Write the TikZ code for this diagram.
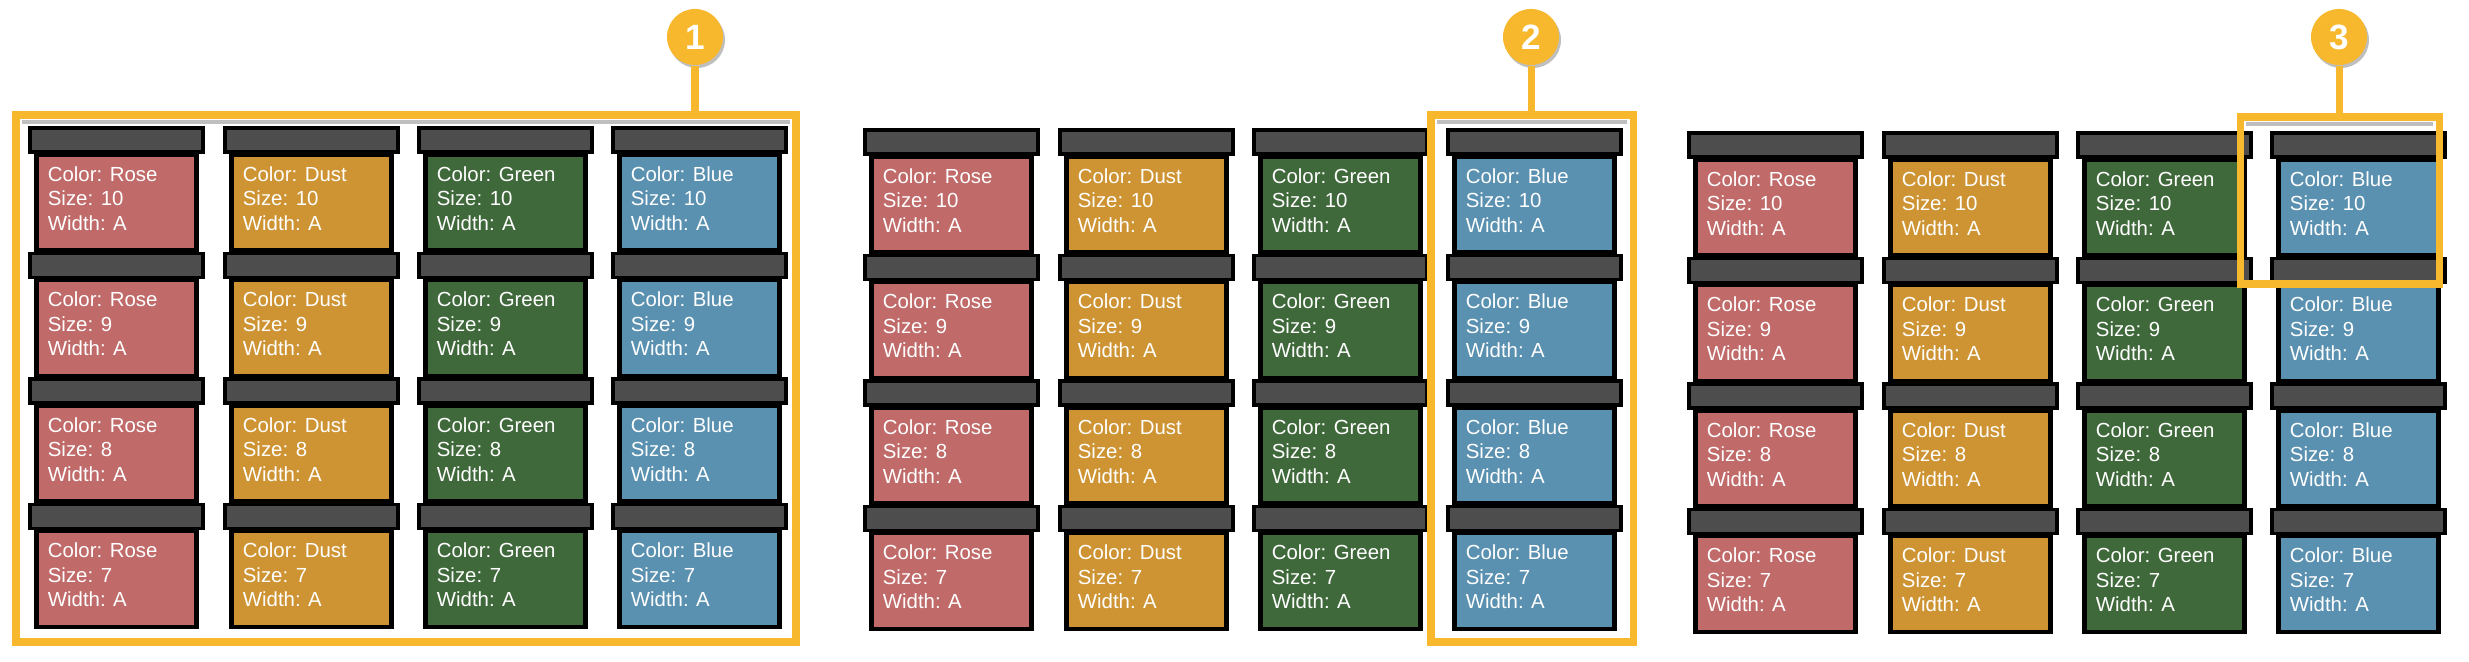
\documentclass[tikz,border=0pt]{standalone}
\usepackage{fontspec}
\setmainfont{Liberation Sans}
\begin{document}
\begin{tikzpicture}[x=0.01cm,y=-0.01cm,
  lid/.style={draw=black,line width=1.1pt,fill=lidgray},
  body/.style={draw=black,line width=1.3pt,minimum width=1.6cm,minimum height=0.96cm,inner sep=0pt,anchor=north},
  lbl/.style={text=white,font=\fontsize{5.8}{6.9}\selectfont,align=left,anchor=north west,inner sep=0pt},
  frame/.style={draw=orng,line width=2pt},
  badge/.style={circle,fill=orng,minimum size=0.56cm,inner sep=0pt,text=white,font=\fontsize{10}{10}\selectfont\bfseries},
  lead/.style={draw=orng,line width=2pt}]
\definecolor{lidgray}{HTML}{4D4D4D}
\definecolor{orng}{HTML}{F7B82D}
\definecolor{crose}{HTML}{C06A6A}
\definecolor{cdust}{HTML}{CE9433}
\definecolor{cgreen}{HTML}{40693B}
\definecolor{cblue}{HTML}{5A90B0}
\useasboundingbox (0,0) rectangle (2469,662);
\foreach \p/\px/\py in {a/30/128, b/865/130, c/1689/133}{
  \foreach \c/\cx/\cc/\cn in {1/0/crose/Rose, 2/195/cdust/Dust, 3/389/cgreen/Green, 4/583/cblue/Blue}{
    \foreach \r/\sz in {0/10, 1/9, 2/8, 3/7}{
      \pgfmathsetmacro{\X}{\px+\cx}
      \pgfmathsetmacro{\Y}{\py+125.5*\r}
      \node[body,fill=\cc] (b\p\c\r) at (\X+86.5,\Y+24) {};
      \draw[lid] (\X,\Y) rectangle (\X+173,\Y+24);
      \node[lbl] (t\p\c\r) at ([xshift=0.13cm,yshift=-0.14cm]b\p\c\r.north west) {Color: \cn\\Size: \sz\\Width: A};
    }
  }
}
\draw[gray!50,line width=1pt] (22,122) -- (790,122);
\draw[frame] (16,115) rectangle (796,642);
\draw[gray!50,line width=1pt] (1437,122) -- (1627,122);
\draw[frame] (1431,115) rectangle (1633,642);
\draw[gray!50,line width=1pt] (2246,124) -- (2433,124);
\draw[frame] (2240,117) rectangle (2439,284);
\fill[gray!50] (697,40) circle (28);
\node[badge] (n1) at (695,37) {1};
\coordinate (f1) at (695,115);
\draw[lead] (n1) -- (f1);
\fill[gray!50] (1533,40) circle (28);
\node[badge] (n2) at (1531,37) {2};
\coordinate (f2) at (1531,115);
\draw[lead] (n2) -- (f2);
\fill[gray!50] (2341,40) circle (28);
\node[badge] (n3) at (2339,37) {3};
\coordinate (f3) at (2339,117);
\draw[lead] (n3) -- (f3);
\end{tikzpicture}
\end{document}
